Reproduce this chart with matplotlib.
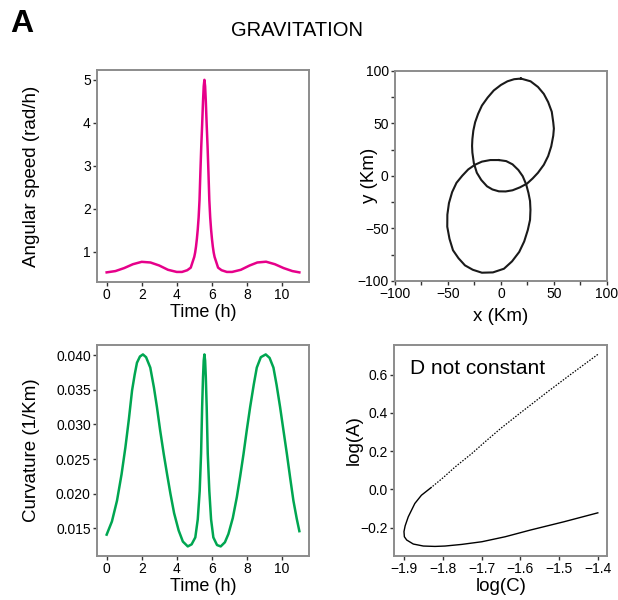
import matplotlib
matplotlib.use("Agg")
import matplotlib.pyplot as plt

plt.rcParams["font.family"] = ["Liberation Sans", "DejaVu Sans"]

# angular speed (top left)
t_speed = [0, 0.5, 1.0, 1.5, 2.0, 2.5, 3.0, 3.5, 4.0, 4.3, 4.6, 4.8, 5.0, 5.05, 5.1, 5.15,
           5.2, 5.25, 5.3, 5.35, 5.4, 5.45, 5.5, 5.54, 5.58, 5.62, 5.66, 5.71, 5.76, 5.81,
           5.86, 5.91, 5.96, 6.01, 6.06, 6.11, 6.16, 6.36, 6.56, 6.86, 7.16, 7.66, 8.16,
           8.6, 9.1, 9.6, 10.1, 10.6, 11.0]
speed = [0.52, 0.55, 0.62, 0.71, 0.765, 0.75, 0.68, 0.58, 0.53, 0.53, 0.57, 0.63, 0.88, 0.98,
         1.12, 1.3, 1.52, 1.8, 2.2, 2.85, 3.45, 3.95, 4.5, 4.85, 5.0, 4.85, 4.5, 3.95, 3.45,
         2.85, 2.2, 1.8, 1.52, 1.3, 1.12, 0.98, 0.88, 0.63, 0.57, 0.53, 0.53, 0.58, 0.68,
         0.75, 0.768, 0.71, 0.62, 0.55, 0.52]

# curvature (bottom left)
t_curv = [0.0, 0.3, 0.59, 0.85, 1.07, 1.27, 1.45, 1.6, 1.73, 1.9, 2.07, 2.25, 2.49, 2.7, 2.87,
          3.05, 3.26, 3.45, 3.64, 3.85, 4.11, 4.35, 4.63, 4.85, 5.06, 5.2, 5.31, 5.39, 5.45,
          5.5, 5.54, 5.58, 5.62, 5.66, 5.71, 5.77, 5.86, 5.96, 6.09, 6.3, 6.51, 6.75, 6.95,
          7.2, 7.43, 7.62, 7.81, 8.0, 8.19, 8.4, 8.57, 8.8, 9.08, 9.3, 9.52, 9.7, 9.9, 10.1,
          10.29, 10.48, 10.66, 10.85, 11.0]
curv = [0.0141, 0.0160, 0.0190, 0.0228, 0.0267, 0.0308, 0.0349, 0.0372, 0.0389, 0.0398, 0.0401,
        0.0397, 0.0382, 0.0353, 0.0325, 0.0292, 0.0257, 0.0228, 0.0200, 0.0172, 0.0147, 0.0131,
        0.0124, 0.0127, 0.0137, 0.0163, 0.0204, 0.0258, 0.0325, 0.0368, 0.0392, 0.0401, 0.0392,
        0.0368, 0.0325, 0.0258, 0.0204, 0.0163, 0.0137, 0.0126, 0.0124, 0.0130, 0.0142, 0.0165,
        0.0195, 0.0225, 0.0257, 0.0292, 0.0325, 0.0358, 0.0382, 0.0397, 0.0401, 0.0396, 0.0382,
        0.0357, 0.0325, 0.0290, 0.0257, 0.0222, 0.0190, 0.0164, 0.0146]

# trajectory (top right), two loops
loop1_x = [18.9, 28, 35, 40.5, 44.6, 48, 49.4, 50, 49.4, 47.5, 44.6, 40.5, 35, 30, 24.7, 18, 11,
           4.5, -1.9, -8, -13.1, -18.5, -22.7, -25.5, -26.9, -27.2, -26.9, -26, -24.3, -21.5,
           -17.9, -12.5, -6.7, 0, 6.2, 12.5, 18.9]
loop1_y = [92.6, 90, 84.6, 78, 70.2, 61, 51, 45, 38.1, 28, 18.8, 10.5, 2.9, -2.5, -7.4, -11, -13.8,
           -14.9, -14.8, -13, -10, -4, 2.9, 12, 22.1, 28.5, 34.9, 43, 51, 59, 66.9, 74.5, 81.3,
           86.5, 90, 92, 92.6]
loop2_x = [-1.9, 5, 11, 16.5, 20.6, 23.8, 26, 27.5, 27.9, 27.5, 25.4, 22, 17.3, 10.5, 2.9, -7.5,
           -17.9, -26.5, -33.9, -40, -45.2, -48.5, -50.6, -50.5, -49, -46, -41.9, -36.5, -30.8,
           -24.5, -17.9, -10, -1.9]
loop2_y = [15, 14, 10.9, 5.5, -0.4, -8, -16.3, -24, -32.4, -42, -51.6, -62.5, -72.5, -81.5, -88.5,
           -92, -92.3, -89.5, -85.3, -78.5, -70.9, -60, -48.5, -37, -26, -15.5, -6.7, 0, 6.1,
           10.5, 13.5, 15, 15]

# log(A) vs log(C) (bottom right)
log_c = [-1.4, -1.471, -1.53, -1.6, -1.65, -1.691, -1.725, -1.768, -1.80, -1.83, -1.855, -1.872,
         -1.889, -1.897, -1.9, -1.899, -1.893, -1.876, -1.85, -1.82, -1.794, -1.751, -1.699,
         -1.639, -1.574, -1.488, -1.4]
log_a = [0.706, 0.6, 0.51, 0.4, 0.32, 0.249, 0.188, 0.118, 0.06, 0.01, -0.03, -0.073, -0.143,
         -0.19, -0.22, -0.247, -0.264, -0.285, -0.2955, -0.2975, -0.2955, -0.287, -0.273, -0.247,
         -0.212, -0.169, -0.122]

fig = plt.figure(figsize=(6.18, 6.0), dpi=100)

ax1 = fig.add_axes([0.157, 0.530, 0.343, 0.353])
ax2 = fig.add_axes([0.639, 0.532, 0.343, 0.350])
ax3 = fig.add_axes([0.157, 0.0733, 0.343, 0.352])
ax4 = fig.add_axes([0.638, 0.0733, 0.345, 0.352])

for ax in (ax1, ax2, ax3, ax4):
    for s in ax.spines.values():
        s.set_color("#8c8c8c")
        s.set_linewidth(1.4)
    ax.tick_params(direction="out", length=3, width=1, color="#333333", labelsize=10, pad=1.5)

ax1.plot(t_speed, speed, color="#E6008A", lw=1.8)
ax1.set_xticks([0, 2, 4, 6, 8, 10])
ax1.set_yticks([1, 2, 3, 4, 5])
ax1.set_xlabel("Time (h)", fontsize=13, va="center")
ax1.set_ylabel("Angular speed (rad/h)", fontsize=13.5, va="center")
ax1.xaxis.set_label_coords(0.5, -0.145)
ax1.yaxis.set_label_coords(-0.31, 0.5)

ax2.plot(loop1_x, loop1_y, color="#1a1a1a", lw=1.5)
ax2.plot(loop2_x, loop2_y, color="#1a1a1a", lw=1.5)
ax2.set_xlim(-100, 100)
ax2.set_ylim(-100, 100)
ticks = [-100, -75, -50, -25, 0, 25, 50, 75, 100]
ax2.set_xticks(ticks)
ax2.set_yticks(ticks)
ax2.set_xticklabels([str(v).replace("-", "\u2212") if v % 50 == 0 else "" for v in ticks])
ax2.set_yticklabels([str(v).replace("-", "\u2212") if v % 50 == 0 else "" for v in ticks])
ax2.set_xlabel("x (Km)", fontsize=13.5, va="center")
ax2.set_ylabel("y (Km)", fontsize=13.5, va="center")
ax2.xaxis.set_label_coords(0.5, -0.17)
ax2.yaxis.set_label_coords(-0.12, 0.5)

ax3.plot(t_curv, curv, color="#00A651", lw=1.8)
ax3.set_xticks([0, 2, 4, 6, 8, 10])
ax3.set_yticks([0.015, 0.020, 0.025, 0.030, 0.035, 0.040])
ax3.set_yticklabels(["0.015", "0.020", "0.025", "0.030", "0.035", "0.040"])
ax3.set_xlabel("Time (h)", fontsize=13, va="center")
ax3.set_ylabel("Curvature (1/Km)", fontsize=13.5, va="center")
ax3.xaxis.set_label_coords(0.5, -0.145)
ax3.yaxis.set_label_coords(-0.31, 0.5)

ax4.plot(log_c[:10], log_a[:10], color="black", lw=0.9, ls=(0, (1.2, 1.2)))
ax4.plot(log_c[9:], log_a[9:], color="black", lw=1.0)
ax4.set_xticks([-1.9, -1.8, -1.7, -1.6, -1.5, -1.4])
ax4.set_yticks([-0.2, 0.0, 0.2, 0.4, 0.6])
ax4.set_xlabel("log(C)", fontsize=13.5, va="center")
ax4.set_ylabel("log(A)", fontsize=13.5, va="center")
ax4.xaxis.set_label_coords(0.5, -0.145)
ax4.yaxis.set_label_coords(-0.19, 0.55)
ax4.text(0.075, 0.86, "D not constant", transform=ax4.transAxes, fontsize=15, va="baseline")

fig.text(0.016, 0.985, "A", fontsize=23, fontweight="bold", va="top", ha="left")
fig.text(0.481, 0.95, "GRAVITATION", fontsize=14.5, va="center", ha="center")

fig.savefig("out.png", dpi=100)
